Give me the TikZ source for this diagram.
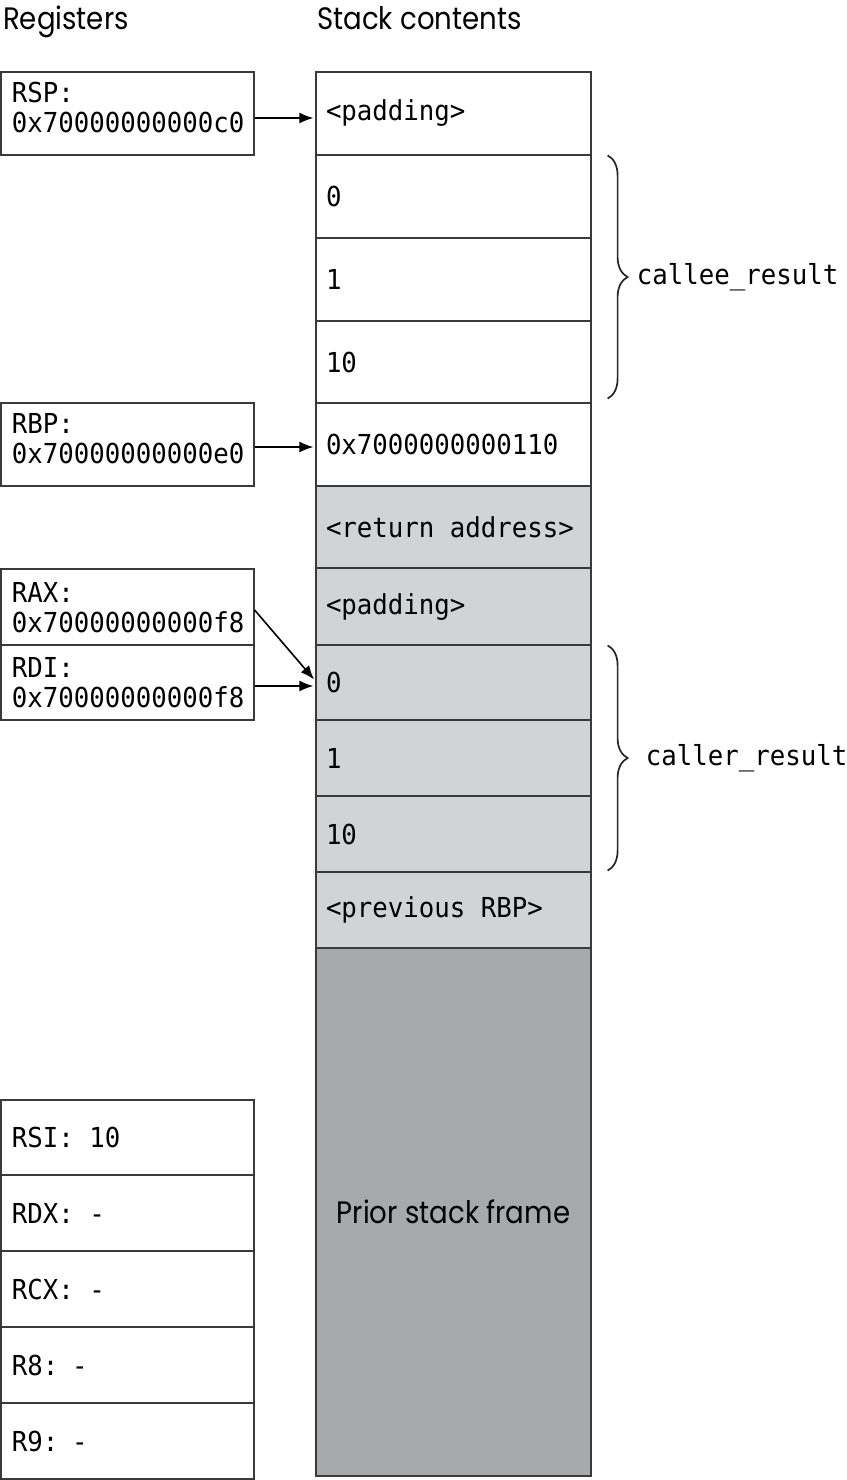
\documentclass[tikz,border=0pt]{standalone}
\usepackage{fontspec}
\usetikzlibrary{arrows.meta,decorations.pathreplacing}
\newfontfamily\monofont[FakeStretch=0.936]{DejaVu Sans Mono}
\newfontfamily\headfont[FakeStretch=0.89]{Poppins}
\definecolor{stkl}{HTML}{D1D3D4}
\definecolor{stkd}{HTML}{A7A9AC}
\definecolor{linec}{HTML}{3A3A3A}
\begin{document}
\begin{tikzpicture}[x=1pt,y=-1pt,
  mono/.style={font=\monofont\fontsize{27.5}{30}\selectfont, execute at begin node={\spaceskip=\fontdimen2\font\relax}},
  head/.style={font=\headfont\fontsize{31}{36}\selectfont, inner sep=0pt},
  regbox/.style={draw=linec, line width=1.2pt, mono, text width=231pt, inner xsep=11pt, inner ysep=0pt, align=left},
  cellbox/.style={draw=linec, line width=1.2pt, mono, text width=255pt, inner xsep=10pt, inner ysep=0pt, align=left},
  arr/.style={-{Latex[length=14pt,width=11pt]}, line width=1.6pt, black},
  brc/.style={decorate, decoration={brace, amplitude=20pt}, line width=1.7pt, black!85},
  lbl/.style={mono, inner sep=0pt, anchor=west},
]
\useasboundingbox (0,0) rectangle (846,1480);

% headers
\node[head, anchor=base west] (hreg) at (3,30) {Registers};
\node[head, anchor=base west] (hstk) at (317,30) {Stack contents};

% stack cells
\node[cellbox, minimum height=83pt] (s1) at (453.5,113.5) {<padding>};
\node[cellbox, minimum height=83pt] (s2) at (453.5,196.5) {0};
\node[cellbox, minimum height=83pt] (s3) at (453.5,279.5) {1};
\node[cellbox, minimum height=82pt] (s4) at (453.5,362) {10};
\node[cellbox, minimum height=83pt] (s5) at (453.5,444.5) {0x7000000000110};
\node[cellbox, fill=stkl, minimum height=82pt] (s6) at (453.5,527) {<return address>};
\node[cellbox, fill=stkl, minimum height=77pt] (s7) at (453.5,606.5) {<padding>};
\node[cellbox, fill=stkl, minimum height=75pt] (s8) at (453.5,682.5) {0};
\node[cellbox, fill=stkl, minimum height=76pt] (s9) at (453.5,758) {1};
\node[cellbox, fill=stkl, minimum height=76pt] (s10) at (453.5,834) {10};
\node[cellbox, fill=stkl, minimum height=76pt] (s11) at (453.5,910) {<previous RBP>};
\node[draw=linec, line width=1.2pt, fill=stkd, minimum width=275pt, minimum height=528pt, inner sep=0pt, font=\headfont\fontsize{31}{36}\selectfont] (s12) at (453.5,1212) {Prior stack frame};

% registers
\node[regbox, minimum height=83pt, text height=20pt, text depth=43pt] (rsp) at (127.5,113.5) {RSP:\\0x70000000000c0};
\node[regbox, minimum height=83pt, text height=20pt, text depth=43pt] (rbp) at (127.5,444.5) {RBP:\\0x70000000000e0};
\node[regbox, minimum height=76pt, text height=20pt, text depth=30pt] (rax) at (127.5,607) {RAX:\\0x70000000000f8};
\node[regbox, minimum height=75pt, text height=20pt, text depth=31pt] (rdi) at (127.5,682.5) {RDI:\\0x70000000000f8};
\node[regbox, minimum height=75pt] (rsi) at (127.5,1137.5) {RSI: 10};
\node[regbox, minimum height=76pt] (rdx) at (127.5,1213) {RDX: -};
\node[regbox, minimum height=76pt] (rcx) at (127.5,1289) {RCX: -};
\node[regbox, minimum height=76pt] (r8) at (127.5,1365) {R8: -};
\node[regbox, minimum height=76pt] (r9) at (127.5,1441) {R9: -};

% arrows
\draw[arr, shorten >=2pt] ([yshift=-4.5pt]rsp.east) -- ([yshift=-4.5pt]rsp.east -| s1.west);
\draw[arr, shorten >=2pt] ([yshift=-2.5pt]rbp.east) -- ([yshift=-2.5pt]rbp.east -| s5.west);
\draw[arr, shorten >=2pt] ([yshift=-3pt]rax.east) -- ([yshift=1.5pt]s8.west);
\draw[arr, shorten >=2pt] ([yshift=-3.5pt]rdi.east) -- ([yshift=-3.5pt]rdi.east -| s8.west);

% braces
\draw[brc] ([xshift=16pt,yshift=-1pt]s2.north east) -- ([xshift=16pt,yshift=5pt]s4.south east);
\node[lbl] (callee) at ([xshift=45pt,yshift=2pt]s3.east) {callee\_result};
\draw[brc] ([xshift=16pt,yshift=-1pt]s8.north east) -- ([xshift=16pt,yshift=2pt]s10.south east);
\node[lbl] (caller) at ([xshift=54pt]s9.east) {caller\_result};
\end{tikzpicture}
\end{document}
